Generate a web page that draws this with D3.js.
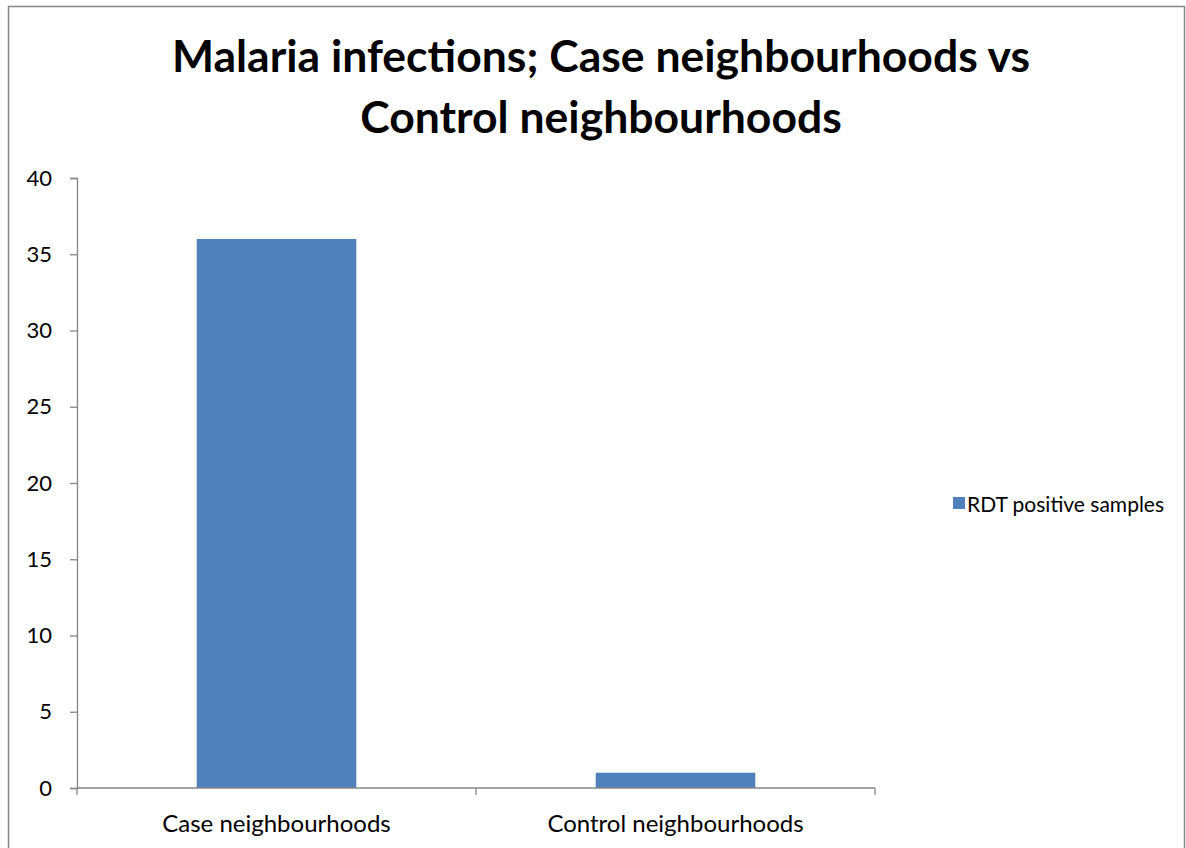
<!DOCTYPE html>
<html>
<head>
<meta charset="utf-8">
<script src="https://cdn.jsdelivr.net/npm/d3@7"></script>
<style>
  body { margin: 0; background: #fff; }
  text { font-family: Lato, "Open Sans", sans-serif; fill: #000; }
</style>
</head>
<body>
<div id="chart"></div>
<script>
(function(){

  var width = 1186, height = 848;

  var categories = ["Case neighbourhoods", "Control neighbourhoods"];
  var values = [36, 1];
  var seriesName = "RDT positive samples";
  var yTicks = [0, 5, 10, 15, 20, 25, 30, 35, 40];
  var titleLines = ["Malaria infections; Case neighbourhoods vs", "Control neighbourhoods"];

  var plot = {left: 77, right: 875, top: 178, bottom: 788};

  var svg = d3.select("#chart").append("svg")
      .attr("width", width)
      .attr("height", height);

  // outer chart border
  svg.append("rect")
      .attr("x", 8.5).attr("y", 6.5)
      .attr("width", 1176).attr("height", 860)
      .attr("fill", "none")
      .attr("stroke", "#868686")
      .attr("stroke-width", 1.5);

  svg.selectAll(".title")
      .data(titleLines)
    .enter().append("text")
      .attr("class", "title")
      .attr("x", 601)
      .attr("y", function(d, i){ return 72 + i * 61; })
      .attr("text-anchor", "middle")
      .style("font-size", "44.5px")
      .style("font-weight", "bold")
      .text(function(d){ return d; });

  var x = d3.scaleBand()
      .domain(categories)
      .range([plot.left, plot.right])
      .paddingInner(0.6)
      .paddingOuter(0.3);

  var y = d3.scaleLinear()
      .domain([0, 40])
      .range([plot.bottom, plot.top]);

  svg.selectAll(".bar")
      .data(values)
    .enter().append("rect")
      .attr("class", "bar")
      .attr("x", function(d, i){ return x(categories[i]); })
      .attr("y", function(d){ return y(d); })
      .attr("width", x.bandwidth())
      .attr("height", function(d){ return y(0) - y(d); })
      .attr("fill", "#4f81bd");

  // y axis
  var yAxis = svg.append("g")
      .attr("transform", "translate(" + plot.left + ",0)")
      .call(d3.axisLeft(y).tickValues(yTicks).tickSize(7).tickPadding(18));
  yAxis.select(".domain").attr("stroke", "#868686").attr("stroke-width", 1.3);
  yAxis.selectAll(".tick line").attr("stroke", "#868686").attr("stroke-width", 1.3);
  yAxis.selectAll(".tick text")
      .style("font-size", "22px")
      .style("font-family", "Lato, 'Open Sans', sans-serif")
      .attr("fill", "#000");

  // x axis (ticks at category boundaries)
  var xAxisG = svg.append("g")
      .attr("transform", "translate(0," + plot.bottom + ")");
  xAxisG.append("line")
      .attr("x1", plot.left).attr("x2", plot.right)
      .attr("stroke", "#868686").attr("stroke-width", 1.3);
  var step = (plot.right - plot.left) / categories.length;
  xAxisG.selectAll(".xtick")
      .data(d3.range(categories.length + 1))
    .enter().append("line")
      .attr("x1", function(d){ return plot.left + d * step; })
      .attr("x2", function(d){ return plot.left + d * step; })
      .attr("y1", 0).attr("y2", 7)
      .attr("stroke", "#868686").attr("stroke-width", 1.3);
  xAxisG.selectAll(".xlabel")
      .data(categories)
    .enter().append("text")
      .attr("x", function(d){ return x(d) + x.bandwidth() / 2; })
      .attr("y", 44)
      .attr("text-anchor", "middle")
      .style("font-size", "24px")
      .text(function(d){ return d; });

  // legend
  var legend = svg.append("g").attr("transform", "translate(953,497)");
  legend.append("rect")
      .attr("width", 12).attr("height", 12)
      .attr("fill", "#4f81bd");
  legend.append("text")
      .attr("x", 14).attr("y", 15)
      .style("font-size", "21px")
      .text(seriesName);

})();
</script>
</body>
</html>
